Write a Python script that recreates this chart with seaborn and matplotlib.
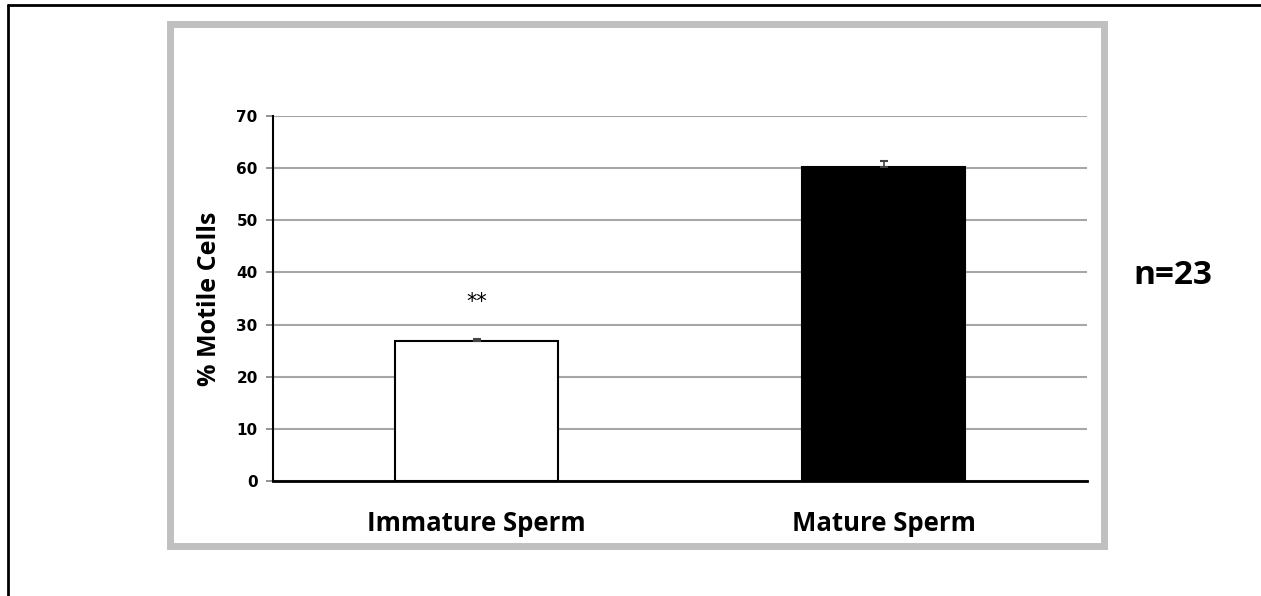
import matplotlib
matplotlib.use("Agg")
import matplotlib.pyplot as plt
import seaborn as sns
import pandas as pd
from matplotlib.patches import Rectangle
from matplotlib.lines import Line2D

categories = ["Immature Sperm", "Mature Sperm"]
values = [26.8, 60.2]
errors = [0.5, 1.2]
bar_colors = ["white", "black"]
yticks = [0, 10, 20, 30, 40, 50, 60, 70]
sig_label = "**"
n_label = "n=23"

sns.set_theme(style="white")
plt.rcParams['font.family'] = ['Open Sans', 'DejaVu Sans']
plt.rcParams['text.color'] = 'black'
plt.rcParams['axes.labelcolor'] = 'black'
plt.rcParams['xtick.color'] = 'black'
plt.rcParams['ytick.color'] = 'black'

W, H = 1261, 596
fig = plt.figure(figsize=(W / 100, H / 100), dpi=100)

# outer black border (left and top visible)
fig.add_artist(Line2D([8 / W, 8 / W], [0, 1 - 5 / H], transform=fig.transFigure, color="black", lw=2))
fig.add_artist(Line2D([8 / W, 1], [1 - 5 / H, 1 - 5 / H], transform=fig.transFigure, color="black", lw=2))
# gray chart frame
fig.add_artist(Rectangle((169.5 / W, 1 - 545.5 / H), (1103.5 - 169.5) / W, (545.5 - 23.5) / H,
                         transform=fig.transFigure, fill=False, edgecolor="#c0c0c0", lw=5))

ax = fig.add_axes([273 / W, 1 - 481 / H, (1087 - 273) / W, (481 - 116) / H])
df = pd.DataFrame({"cat": categories, "val": values})
sns.barplot(data=df, x="cat", y="val", hue="cat", palette=bar_colors, legend=False,
            edgecolor="black", linewidth=1.5, width=0.40, ax=ax, zorder=3, errorbar=None)
ax.errorbar(range(len(values)), values, yerr=[[0, 0], errors], fmt="none", ecolor="#444444",
            elinewidth=1.2, capsize=3, capthick=1.5, zorder=4)

ax.set_ylim(0, 70)
ax.set_xlim(-0.5, 1.5)
ax.set_yticks(yticks)
ax.yaxis.grid(True, color="#a6a6a6", lw=1.5, zorder=0)
ax.set_axisbelow(True)
for s in ["top", "right"]:
    ax.spines[s].set_visible(False)
ax.spines["left"].set_color("black")
ax.spines["left"].set_linewidth(1.5)
ax.spines["bottom"].set_color("black")
ax.spines["bottom"].set_linewidth(2)
ax.tick_params(axis="y", which="both", left=True, length=5, width=1.2, color="#808080",
               labelcolor="black", pad=6)
ax.tick_params(axis="x", bottom=False, pad=15, labelcolor="black")
for lab in ax.get_yticklabels():
    lab.set_fontfamily(["Liberation Sans Narrow", "DejaVu Sans"])
    lab.set_fontweight("bold")
    lab.set_fontsize(11)
for lab in ax.get_xticklabels():
    lab.set_fontweight("bold")
    lab.set_fontsize(18.5)
ax.set_xlabel("")
ax.set_ylabel("% Motile Cells", fontsize=18, fontweight="bold", labelpad=10, color="black")

ax.text(0, values[0] + 7.5, sig_label, ha="center", va="center", fontsize=15,
        family=["DejaVu Sans"], color="black")
fig.text(1173 / W, 1 - 275 / H, n_label, ha="center", va="center", fontsize=24,
         fontweight="bold", color="black")

fig.savefig("out.png", dpi=100)
